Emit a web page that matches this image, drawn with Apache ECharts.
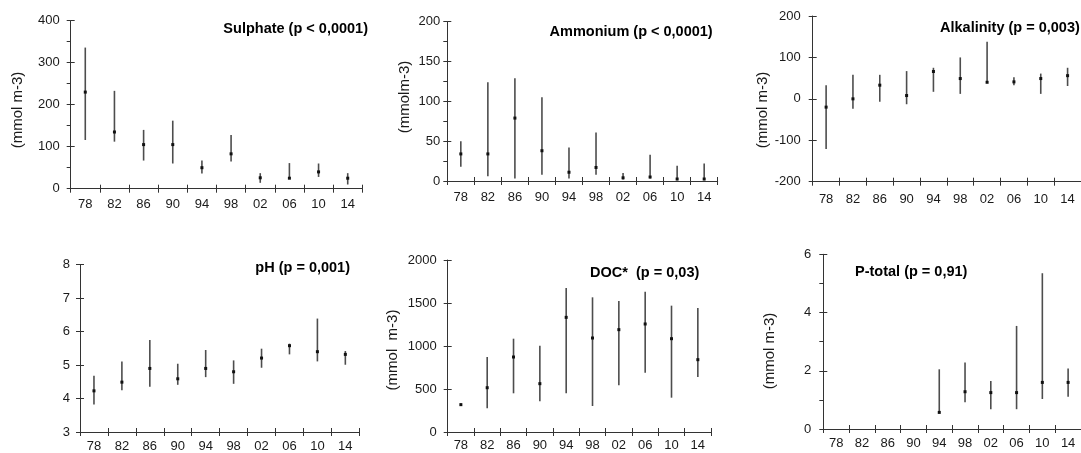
<!DOCTYPE html>
<html>
<head>
<meta charset="utf-8">
<script src="https://cdn.jsdelivr.net/npm/echarts@6/dist/echarts.min.js"></script>
<style>
  html, body { margin: 0; padding: 0; background: #fff; }
  #chart { width: 1081px; height: 453px; }
</style>
</head>
<body>
<div id="chart"></div>
<script>
// Sampling years (two-digit labels)
const years = ['78', '82', '86', '90', '94', '98', '02', '06', '10', '14'];

// Sulphate (mmol m-3): range minimum, maximum and median per year
const sulphateMin = [116, 112, 67, 60, 36, 65, 14, 24, 28, 10];
const sulphateMax = [336, 233, 140, 162, 67, 128, 37, 61, 60, 37];
const sulphateMed = [230, 135, 105, 105, 50, 83, 26, 25, 40, 25];

// Ammonium (mmol m-3)
const ammoniumMin = [18, 6, 3, 8, 3, 8, 2, 3, 1, 1];
const ammoniumMax = [50, 124, 129, 105, 42, 61, 10, 33, 19, 22];
const ammoniumMed = [34, 34, 79, 38, 11, 17, 4, 5, 2.5, 2.5];

// Alkalinity (mmol m-3)
const alkalinityMin = [-121, -24, -7, -13, 17, 12, 40, 33, 12, 31];
const alkalinityMax = [33, 58, 58, 67, 75, 100, 138, 52, 61, 75];
const alkalinityMed = [-20, 0, 33, 8, 66, 49, 40, 41, 49, 56];

// pH
const phMin = [3.82, 4.25, 4.35, 4.41, 4.64, 4.44, 4.92, 5.32, 5.11, 5.01];
const phMax = [4.68, 5.11, 5.75, 5.04, 5.45, 5.14, 5.49, 5.64, 6.39, 5.42];
const phMed = [4.23, 4.49, 4.90, 4.59, 4.90, 4.80, 5.21, 5.58, 5.40, 5.32];

// DOC (mmol m-3)
const docMin = [305, 275, 450, 357, 450, 302, 543, 690, 399, 640];
const docMax = [330, 872, 1085, 1004, 1674, 1566, 1523, 1632, 1469, 1442];
const docMed = [318, 515, 872, 562, 1333, 1093, 1190, 1256, 1085, 841];

// P-total (mmol m-3); no measurements before 1994
const ptotMin = [null, null, null, null, 0.55, 0.92, 0.68, 0.68, 1.03, 1.11];
const ptotMax = [null, null, null, null, 2.05, 2.28, 1.65, 3.54, 5.35, 2.08];
const ptotMed = [null, null, null, null, 0.57, 1.28, 1.25, 1.25, 1.60, 1.60];

const FONT = "'Liberation Sans', Arial, sans-serif";
const AXIS_COLOR = '#333';
const LABEL_COLOR = '#1a1a1a';

// Panel definitions: grid box, value scale, title and unit label placement
const panels = [
  { title: 'Sulphate (p < 0,0001)', min: sulphateMin, max: sulphateMax, med: sulphateMed,
    yMin: 0, yMax: 400, yStep: 100, minor: true,
    grid: { left: 70.7, top: 20.7, width: 291.6, height: 168 },
    titlePos: [368, 29, 'right'], unitPos: [18, 110], yMargin: 11, xMargin: 9 },
  { title: 'Ammonium (p < 0,0001)', min: ammoniumMin, max: ammoniumMax, med: ammoniumMed,
    yMin: 0, yMax: 200, yStep: 50, minor: true,
    grid: { left: 447.3, top: 21.7, width: 270.4, height: 159.3 },
    titlePos: [712.7, 32, 'right'], unitPos: [405, 97], unitText: '(mmolm-3)', yMargin: 7, xMargin: 10 },
  { title: 'Alkalinity (p = 0,003)', min: alkalinityMin, max: alkalinityMax, med: alkalinityMed,
    yMin: -200, yMax: 200, yStep: 100, minor: false,
    grid: { left: 812.7, top: 16, width: 274, height: 165.7 },
    titlePos: [940, 28, 'left'], unitPos: [763, 110], yMargin: 12, xMargin: 11 },
  { title: 'pH (p = 0,001)', min: phMin, max: phMax, med: phMed,
    yMin: 3, yMax: 8, yStep: 1, minor: false,
    grid: { left: 80, top: 264.7, width: 279.3, height: 169.7 },
    titlePos: [350, 268, 'right'], unitPos: null, yMargin: 10, xMargin: 8 },
  { title: 'DOC*  (p = 0,03)', min: docMin, max: docMax, med: docMed,
    yMin: 0, yMax: 2000, yStep: 500, minor: false,
    grid: { left: 447.7, top: 260, width: 263.3, height: 172 },
    titlePos: [699.3, 273.3, 'right'], unitPos: [393, 350], unitText: '(mmol  m-3)', yMargin: 11, xMargin: 7 },
  { title: 'P-total (p = 0,91)', min: ptotMin, max: ptotMax, med: ptotMed,
    yMin: 0, yMax: 6, yStep: 2, minor: true,
    grid: { left: 823.3, top: 254.3, width: 260, height: 174.7 },
    titlePos: [855, 271.7, 'left'], unitPos: [770, 351], yMargin: 12, xMargin: 8 }
];

// Vertical range line from min to max with a small square at the median
function renderRange(params, api) {
  const x = api.value(0);
  const lo = api.coord([x, api.value(1)]);
  const hi = api.coord([x, api.value(2)]);
  const md = api.coord([x, api.value(3)]);
  return {
    type: 'group',
    children: [
      { type: 'line', shape: { x1: lo[0], y1: lo[1], x2: hi[0], y2: hi[1] },
        style: { stroke: '#4d4d4d', lineWidth: 1.6 } },
      { type: 'rect', shape: { x: md[0] - 1.5, y: md[1] - 1.5, width: 3, height: 3 },
        style: { fill: '#111' } }
    ]
  };
}

const plainNumber = v => String(v);

const grids = [], xAxes = [], yAxes = [], series = [], graphics = [];

panels.forEach((p, i) => {
  grids.push(Object.assign({ containLabel: false }, p.grid));

  // main category axis with labels, ticks below the line
  xAxes.push({
    type: 'category', gridIndex: i, data: years, boundaryGap: true, position: 'bottom',
    axisLine: { onZero: false, lineStyle: { color: AXIS_COLOR, width: 1 } },
    axisTick: { show: true, length: 4, lineStyle: { color: AXIS_COLOR } },
    axisLabel: { color: LABEL_COLOR, fontFamily: FONT, fontSize: 13, margin: p.xMargin },
    splitLine: { show: false }
  });
  // companion axis giving the ticks their upper half so they cross the line
  xAxes.push({
    type: 'category', gridIndex: i, data: years, boundaryGap: true, position: 'bottom',
    axisLine: { show: false, onZero: false },
    axisTick: { show: true, inside: true, length: 4, lineStyle: { color: AXIS_COLOR } },
    axisLabel: { show: false }, splitLine: { show: false }
  });

  yAxes.push({
    type: 'value', gridIndex: i, min: p.yMin, max: p.yMax, interval: p.yStep, position: 'left',
    axisLine: { show: true, onZero: false, lineStyle: { color: AXIS_COLOR, width: 1 } },
    axisTick: { show: true, length: 4, lineStyle: { color: AXIS_COLOR } },
    minorTick: { show: p.minor, splitNumber: 2, length: 4, lineStyle: { color: AXIS_COLOR } },
    axisLabel: { color: LABEL_COLOR, fontFamily: FONT, fontSize: 13, margin: p.yMargin,
                 formatter: plainNumber },
    splitLine: { show: false }
  });
  yAxes.push({
    type: 'value', gridIndex: i, min: p.yMin, max: p.yMax, interval: p.yStep, position: 'left',
    axisLine: { show: false, onZero: false },
    axisTick: { show: true, inside: true, length: 4, lineStyle: { color: AXIS_COLOR } },
    axisLabel: { show: false }, splitLine: { show: false }
  });

  const data = [];
  years.forEach((y, k) => {
    if (p.min[k] !== null && p.max[k] !== null && p.med[k] !== null) {
      data.push([k, p.min[k], p.max[k], p.med[k]]);
    }
  });
  series.push({
    type: 'custom', xAxisIndex: i * 2, yAxisIndex: i * 2,
    renderItem: renderRange, data: data, silent: true,
    encode: { x: 0, y: [1, 2, 3] }, clip: false
  });

  graphics.push({
    type: 'text', x: p.titlePos[0], y: p.titlePos[1],
    style: { text: p.title, fontFamily: FONT, fontSize: 14.5, fontWeight: 'bold', fill: '#000',
             align: p.titlePos[2], verticalAlign: 'middle' }
  });
  if (p.unitPos) {
    graphics.push({
      type: 'text', x: p.unitPos[0], y: p.unitPos[1], rotation: Math.PI / 2,
      style: { text: p.unitText || '(mmol m-3)', fontFamily: FONT, fontSize: 15, fill: LABEL_COLOR,
               align: 'center', verticalAlign: 'middle' }
    });
  }
});

const chart = echarts.init(document.getElementById('chart'), null, { renderer: 'canvas' });
chart.setOption({
  animation: false,
  backgroundColor: '#fff',
  grid: grids,
  xAxis: xAxes,
  yAxis: yAxes,
  series: series,
  graphic: graphics
});
</script>
</body>
</html>
